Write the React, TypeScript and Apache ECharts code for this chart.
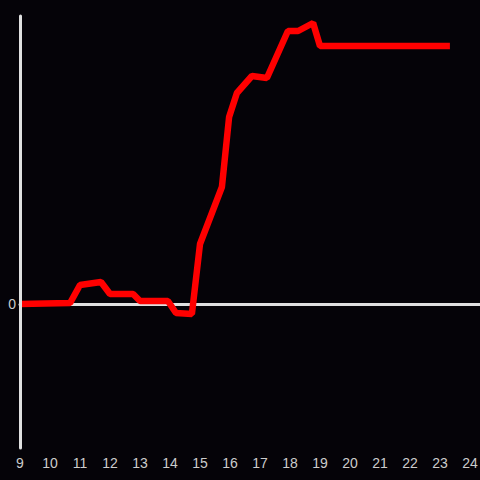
import React, { useEffect, useRef } from "react";
import * as echarts from "echarts";

const hours: number[] = [9.0, 10.67, 11.0, 11.7, 12.0, 12.77, 13.0, 13.93, 14.2, 14.73, 15.0, 15.73, 15.97, 16.23, 16.73, 17.23, 17.93, 18.27, 18.77, 19.0, 23.33];
const values: number[] = [0, 1, 19, 22, 10, 10, 3, 3, -9, -10, 60, 117, 187, 211, 228, 226, 273, 273, 281, 258, 258];
const xTicks: number[] = [9, 10, 11, 12, 13, 14, 15, 16, 17, 18, 19, 20, 21, 22, 23, 24];

export default function App() {
  const ref = useRef<HTMLDivElement>(null);
  useEffect(() => {
    if (!ref.current) return;
    const chart = echarts.init(ref.current, null, { renderer: "svg" });
    const data = hours.map((h, i) => [h, values[i]]);
    chart.setOption({
      animation: false,
      backgroundColor: "#050308",
      grid: { left: 20, right: 0, top: 16, bottom: 32, outerBoundsMode: "none", containLabel: false },
      xAxis: [
        {
          type: "value",
          min: 9,
          max: 24.333,
          interval: 1,
          axisLine: { show: true, onZero: true, lineStyle: { color: "#e0e0e0", width: 3 } },
          axisTick: { show: false },
          axisLabel: { show: false },
          splitLine: { show: false },
        },
        {
          type: "value",
          position: "bottom",
          min: 9,
          max: 24.333,
          interval: 1,
          axisLine: { show: false, onZero: false },
          axisTick: { show: false },
          axisLabel: {
            show: true,
            color: "#cccccc",
            fontSize: 14,
            margin: 8,
            formatter: (v: number) => (xTicks.indexOf(v) >= 0 ? String(v) : ""),
          },
          splitLine: { show: false },
        },
      ],
      yAxis: {
        type: "value",
        min: -144,
        max: 288,
        z: 5,
        axisLine: { show: true, onZero: false, lineStyle: { color: "#e0e0e0", width: 3 } },
        axisTick: { show: false },
        axisLabel: {
          color: "#cccccc",
          fontSize: 14,
          margin: 4,
          formatter: (v: number) => (v === 0 ? "0" : ""),
        },
        splitLine: { show: false },
      },
      series: [
        {
          type: "line",
          xAxisIndex: 0,
          data,
          showSymbol: false,
          symbol: "none",
          lineStyle: { color: "#ff0000", width: 6.5 },
        },
      ],
    });
    return () => chart.dispose();
  }, []);
  return <div ref={ref} style={{ position: "fixed", left: 0, top: 0, width: 480, height: 480 }} />;
}
